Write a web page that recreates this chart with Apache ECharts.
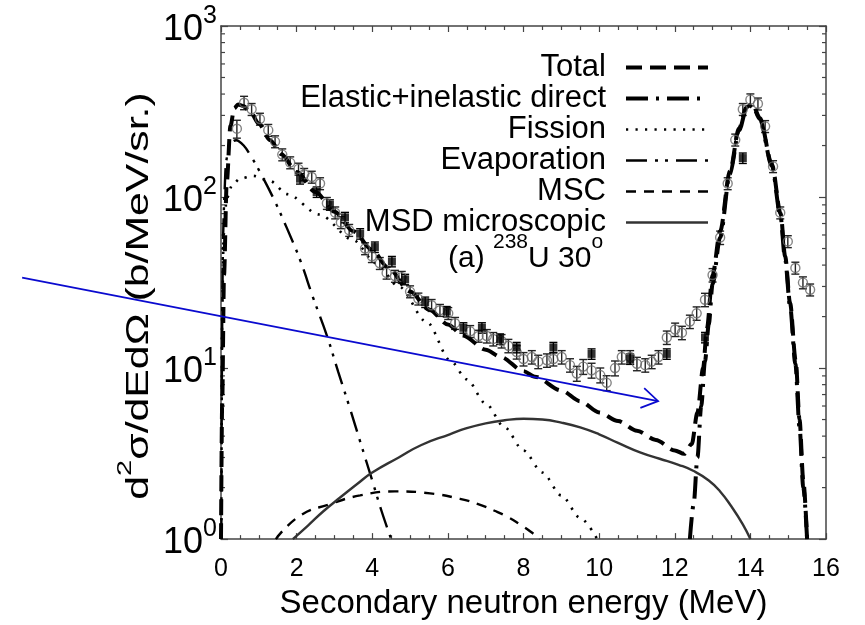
<!DOCTYPE html>
<html><head><meta charset="utf-8">
<script src="https://cdn.jsdelivr.net/npm/echarts@6/dist/echarts.min.js"></script>
<style>html,body{margin:0;padding:0;background:#fff}#c{width:865px;height:625px}</style>
</head><body><div id="c"></div>
<script>
const FONT = '"Liberation Sans", Arial, Helvetica, sans-serif';

// ---- data (E in MeV, value in b/MeV/sr) ----
const seriesNames = ['Total', 'Elastic+inelastic direct', 'Fission', 'Evaporation', 'MSC', 'MSD microscopic'];

const totalCurve = [[0,1],[0.03,6],[0.08,35],[0.15,120],[0.25,260],[0.35,330],[0.45,348],[0.6,340],[0.8,308],[1.0,268],[1.3,215],[1.6,178],[2.0,140],[2.5,107],[3.0,82],[3.5,63],[4.0,49],[4.4,39],[5.0,28],[5.5,22],[6.0,18],[6.4,15.5],[7.0,12.8],[7.4,11.6],[8.0,9.6],[8.3,8.9],[9.0,7.4],[9.5,6.4],[10.0,5.5],[10.5,4.9],[11.0,4.3],[11.5,3.8],[12.0,3.3],[12.25,3.15],[12.45,3.6],[12.6,5.5],[12.75,10],[12.85,17],[13.0,35],[13.2,63],[13.46,142],[13.7,252],[13.9,335],[14.05,352],[14.25,290],[14.57,155],[14.8,80],[14.92,45],[15.05,24],[15.2,11],[15.3,5],[15.4,2.2],[15.5,1]];

const elasticCurve = [[12.4,1],[12.5,1.6],[12.6,3],[12.7,6],[12.8,11],[12.9,18],[13.0,31],[13.2,58],[13.46,137],[13.7,245],[13.9,330],[14.05,345],[14.25,285],[14.57,152],[14.79,79],[14.92,43],[15.05,23],[15.19,10.6],[15.3,4.5],[15.4,2],[15.5,1]];

const fissionCurve = [[0.01,1],[0.03,20],[0.07,60],[0.15,98],[0.3,118],[0.5,128],[0.85,133],[1.3,124],[1.75,104],[2.6,79],[3.5,56],[4.1,41],[4.7,30],[5.45,18.5],[6.06,11.1],[6.5,8.6],[7.0,6.2],[7.5,4.5],[8.0,3.3],[8.5,2.45],[9.0,1.8],[9.5,1.33],[9.95,1]];

const evaporationCurve = [[0.01,1],[0.04,30],[0.1,115],[0.2,190],[0.4,215],[0.6,200],[0.8,172],[1.03,140],[1.38,99],[1.74,66],[2.09,43],[2.43,26],[2.8,15.5],[3.1,9.5],[3.4,5.9],[3.7,3.6],[4.0,2.2],[4.25,1.45],[4.5,1]];

const mscCurve = [[1.45,1],[2.09,1.37],[2.88,1.6],[3.68,1.8],[4.6,1.9],[5.53,1.85],[6.32,1.72],[6.8,1.6],[7.25,1.46],[7.6,1.34],[7.9,1.22],[8.2,1.1],[8.43,1]];

const msdCurve = [[1.9,1],[2.3,1.2],[2.7,1.45],[3.15,1.75],[3.6,2.1],[4.0,2.45],[4.7,3.0],[5.3,3.55],[6.05,4.1],[6.5,4.45],[7.0,4.75],[7.5,4.95],[8.0,5.05],[8.5,5.0],[9.0,4.8],[9.5,4.5],[10.0,4.1],[10.5,3.65],[11.1,3.2],[11.6,2.95],[12.1,2.72],[12.5,2.5],[12.9,2.2],[13.2,1.9],[13.5,1.55],[13.8,1.22],[14.0,1]];

// measured data: open circles [E, value]
const circleData = [[0.42,251],[0.61,356],[0.81,326],[1.03,286],[1.25,246],[1.43,211],[1.62,177],[1.83,159],[2.05,146],[2.2,136],[2.4,131],[2.62,120],[2.8,92],[3.02,81],[3.17,71],[3.39,64],[3.81,50],[3.99,45],[4.2,41],[4.38,36],[4.6,34.5],[4.78,34],[5.0,28],[5.22,25.4],[5.57,23.3],[5.79,21.8],[6.01,20.9],[6.19,18.3],[6.59,16.4],[6.81,15.4],[7.03,15.4],[7.2,14.8],[7.42,14.4],[7.6,13.5],[7.82,12.4],[8.0,11.3],[8.22,11.6],[8.39,10.9],[8.62,11.1],[8.79,11.3],[9.01,11.6],[9.23,10.4],[9.41,9.3],[9.58,10.2],[9.8,9.7],[10.03,9.1],[10.2,8.2],[10.42,10.0],[10.6,11.6],[10.82,11.6],[11.0,10.6],[11.22,10.4],[11.39,10.9],[11.57,11.6],[11.79,15.1],[12.01,16.8],[12.19,16.1],[12.4,18.7],[12.58,20.9],[12.8,25.1],[13.0,35],[13.2,58],[13.4,120],[13.6,216],[13.8,326],[14.0,371],[14.2,351],[14.39,259],[14.6,151],[14.79,81],[14.99,55],[15.19,38.5],[15.39,31.6],[15.58,28.7]];
// relative error of open circles
const circleErr = [0.12,0.09,0.08,0.08,0.08,0.08,0.08,0.08,0.08,0.08,0.08,0.08,0.08,0.08,0.08,0.08,0.08,0.08,0.08,0.08,0.08,0.08,0.08,0.08,0.08,0.08,0.08,0.08,0.08,0.08,0.09,0.09,0.09,0.09,0.09,0.09,0.09,0.09,0.09,0.09,0.09,0.09,0.1,0.1,0.1,0.1,0.1,0.1,0.09,0.09,0.09,0.09,0.09,0.09,0.09,0.09,0.09,0.09,0.09,0.09,0.09,0.09,0.08,0.08,0.08,0.08,0.08,0.08,0.08,0.08,0.08,0.08,0.08,0.08,0.08];
// measured data: filled squares [E, value]
const squareData = [[2.09,128],[2.53,107],[2.88,90],[3.28,76],[3.68,61],[4.07,51],[4.52,42],[4.87,33],[5.4,24.3],[5.97,21.4],[6.41,17.2],[6.9,17.2],[7.38,14.8],[7.82,13.2],[8.79,13.2],[9.8,12.1],[10.82,11.3],[11.79,12.1],[12.8,15.1],[13.8,169]];
const squareErr = 0.07;

// axis ticks
const xMin = 0, xMax = 16, xStep = 2;
const yMin = 1, yMax = 1000;
const yMinorTicks = [2,3,4,5,6,7,8,9,20,30,40,50,60,70,80,90,200,300,400,500,600,700,800,900];

// annotation arrow (data coordinates, start lies left of the plot)
const arrowStart = [-5.26, 33.8];
const arrowEnd = [11.56, 6.41];

// ---- chart ----
const chart = echarts.init(document.getElementById('c'), null, {renderer: 'canvas'});
const AX = '#444';

function errSeries(points, rel, color) {
  return {
    type: 'custom', silent: true, z: 3,
    data: points.map((p, i) => {
      const e = Array.isArray(rel) ? rel[i] : rel;
      return [p[0], p[1] * (1 - e), p[1] * (1 + e)];
    }),
    renderItem(params, api) {
      const lo = api.coord([api.value(0), api.value(1)]);
      const hi = api.coord([api.value(0), api.value(2)]);
      const w = 4;
      const st = {stroke: color, lineWidth: 1.4};
      return {type: 'group', children: [
        {type: 'line', shape: {x1: lo[0], y1: lo[1], x2: hi[0], y2: hi[1]}, style: st},
        {type: 'line', shape: {x1: lo[0]-w, y1: lo[1], x2: lo[0]+w, y2: lo[1]}, style: st},
        {type: 'line', shape: {x1: hi[0]-w, y1: hi[1], x2: hi[0]+w, y2: hi[1]}, style: st}
      ]};
    }
  };
}

function curve(name, data, lineStyle, smooth, mono) {
  return {
    name, type: 'line', data, symbol: 'none', showSymbol: false,
    smooth: smooth, smoothMonotone: mono, z: 5,
    lineStyle: Object.assign({color: '#000', cap: 'butt'}, lineStyle),
    itemStyle: {color: lineStyle.color || '#000'}
  };
}

const axisTickStyle = {inside: true, length: 6, lineStyle: {color: AX, width: 1.2}};
const minorTickStyle = {show: true, splitNumber: 4, length: 4, lineStyle: {color: AX, width: 1.2}};

const option = {
  animation: false,
  backgroundColor: '#fff',
  textStyle: {fontFamily: FONT},
  grid: {left: 221, right: 39, top: 26, bottom: 71, containLabel: false},
  legend: {
    orient: 'vertical', right: 155, top: 52, align: 'right',
    itemWidth: 82, itemHeight: 14, itemGap: 0, padding: 0, selectedMode: false,
    itemStyle: {opacity: 0, borderWidth: 0},
    lineStyle: {width: 'inherit', type: 'inherit', color: 'inherit'},
    textStyle: {fontSize: 31, fontFamily: FONT, color: '#000', lineHeight: 29.3, padding: [0, 15, 0, 0]},
    data: seriesNames
  },
  xAxis: [{
    type: 'value', min: xMin, max: xMax, interval: xStep, position: 'bottom',
    axisLine: {show: true, onZero: false, lineStyle: {color: AX, width: 1.5}},
    axisTick: axisTickStyle, minorTick: minorTickStyle, splitLine: {show: false},
    axisLabel: {fontSize: 25, margin: 18, color: '#000', fontFamily: FONT},
    name: 'Secondary neutron energy (MeV)', nameLocation: 'middle', nameGap: 45,
    nameTextStyle: {fontSize: 33, color: '#000', fontFamily: FONT}
  }, {
    type: 'value', min: xMin, max: xMax, interval: xStep, position: 'top',
    axisLine: {show: true, onZero: false, lineStyle: {color: AX, width: 1.5}},
    axisTick: axisTickStyle, minorTick: minorTickStyle, splitLine: {show: false},
    axisLabel: {show: false}
  }],
  yAxis: [{
    type: 'log', logBase: 10, min: yMin, max: yMax, position: 'left',
    axisLine: {show: true, onZero: false, lineStyle: {color: AX, width: 1.5}},
    axisTick: {inside: true, length: 7, lineStyle: {color: AX, width: 1.2}},
    splitLine: {show: false},
    axisLabel: {
      margin: 4, color: '#000',
      formatter: v => '{b|10}{s|' + Math.round(Math.log10(v)) + '}',
      rich: {
        b: {fontSize: 36, fontFamily: FONT, color: '#000', verticalAlign: 'bottom', lineHeight: 44},
        s: {fontSize: 25, fontFamily: FONT, color: '#000', verticalAlign: 'top', lineHeight: 44}
      }
    }
  }, {
    type: 'log', logBase: 10, min: yMin, max: yMax, position: 'right',
    axisLine: {show: true, onZero: false, lineStyle: {color: AX, width: 1.5}},
    axisTick: {inside: true, length: 7, lineStyle: {color: AX, width: 1.2}},
    splitLine: {show: false}, axisLabel: {show: false}
  }],
  series: [
    {
      type: 'custom', silent: true, z: 2, clip: false,
      data: yMinorTicks.map(v => [xMin, v]),
      renderItem(params, api) {
        const v = api.value(1);
        const l = api.coord([xMin, v]), r = api.coord([xMax, v]);
        const st = {stroke: AX, lineWidth: 1.2};
        return {type: 'group', children: [
          {type: 'line', shape: {x1: l[0], y1: l[1], x2: l[0] + 4, y2: l[1]}, style: st},
          {type: 'line', shape: {x1: r[0], y1: r[1], x2: r[0] - 4, y2: r[1]}, style: st}
        ]};
      }
    },
    curve('Total', totalCurve, {width: 4, type: [16, 8]}, 0.3, 'x'),
    curve('Elastic+inelastic direct', elasticCurve, {width: 4, type: [22, 8, 3, 8]}, 0.3, 'x'),
    curve('Fission', fissionCurve, {width: 2.6, type: [2.2, 7.3]}, 0.3, 'x'),
    curve('Evaporation', evaporationCurve, {width: 2.4, type: [21, 8, 3, 7, 3, 8]}, 0.4, null),
    curve('MSC', mscCurve, {width: 2.4, type: [10, 8]}, 0.5, null),
    curve('MSD microscopic', msdCurve, {width: 2.4, color: '#333', type: 'solid'}, 0.5, null),
    errSeries(circleData, circleErr, '#222'),
    errSeries(squareData, squareErr, '#000'),
    {
      type: 'scatter', data: circleData, symbol: 'circle', symbolSize: 9, z: 6, silent: true,
      itemStyle: {color: 'rgba(255,255,255,0)', borderColor: '#666', borderWidth: 1.4}
    },
    {
      type: 'scatter', data: squareData, symbol: 'rect', symbolSize: 8, z: 7, silent: true,
      itemStyle: {color: '#000'}
    }
  ]
};
chart.setOption(option);

// annotation graphics (arrow from data coords, texts)
const p0 = chart.convertToPixel({gridIndex: 0}, arrowStart);
const p1 = chart.convertToPixel({gridIndex: 0}, arrowEnd);
const ang = Math.atan2(p1[1] - p0[1], p1[0] - p0[0]);
const hl = 19, ha = 32 * Math.PI / 180;
const w1 = [p1[0] - hl * Math.cos(ang - ha), p1[1] - hl * Math.sin(ang - ha)];
const w2 = [p1[0] - hl * Math.cos(ang + ha), p1[1] - hl * Math.sin(ang + ha)];
const blue = '#0a0acf';

chart.setOption({
  graphic: [
    {type: 'polyline', z: 100, silent: true, shape: {points: [p0, p1]}, style: {stroke: blue, lineWidth: 1.7, fill: null}},
    {type: 'polyline', z: 100, silent: true, shape: {points: [w1, p1, w2]}, style: {stroke: blue, lineWidth: 1.7, fill: null}},
    {
      type: 'text', z: 50, silent: true, left: 448, top: 232,
      style: {
        text: '{n|(a) }{s|238}{n|U 30}{s|o}',
        rich: {
          n: {fontSize: 30, fontFamily: FONT, fill: '#000', verticalAlign: 'bottom', lineHeight: 42},
          s: {fontSize: 21, fontFamily: FONT, fill: '#000', verticalAlign: 'top', lineHeight: 42}
        }
      }
    },
    {
      type: 'text', z: 50, silent: true, x: 155, y: 296, rotation: Math.PI / 2, scaleX: 1.38,
      style: {
        text: '{n|d}{s|2}{n|σ/dEdΩ (b/MeV/sr.)}',
        align: 'center', verticalAlign: 'bottom',
        rich: {
          n: {fontSize: 31, fontFamily: FONT, fill: '#000', verticalAlign: 'bottom', lineHeight: 40},
          s: {fontSize: 21, fontFamily: FONT, fill: '#000', verticalAlign: 'top', lineHeight: 40}
        }
      }
    }
  ]
});
</script></body></html>
